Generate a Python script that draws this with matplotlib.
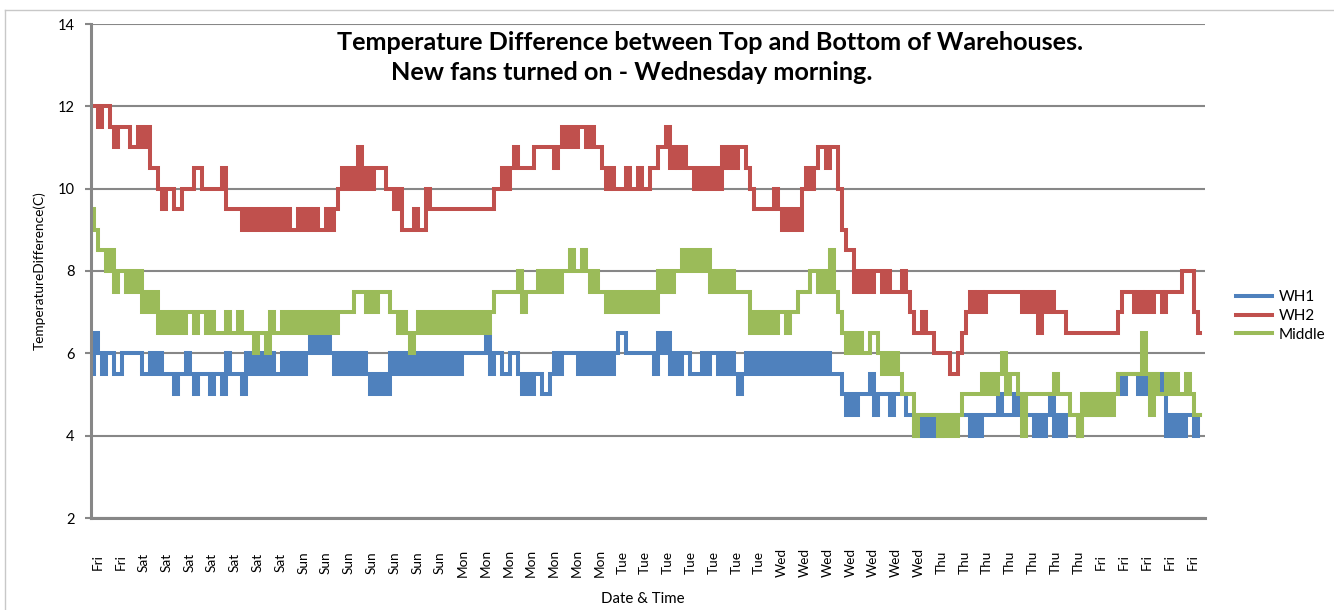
import numpy as np
import matplotlib
matplotlib.use("Agg")
import matplotlib.pyplot as plt
from matplotlib.lines import Line2D

plt.rcParams['font.family'] = ['Lato', 'DejaVu Sans']

# Readings, one char per sample: value = 4 + 0.5 * int(char, 17)
wh1_codes = ("3543443344444334343332334323332332433324343434 3"
             "34343434545454343434343232324343434343434343434 4"
             "4444534433443232332234344443434343434554444 44"
             "4354534344333434434343234343434343434343434343"
             "332121222312221222110101010111111101011112111 2"
             "1211010120101110121212122323332323232010101101 0")
wh2_codes = ("ggfggfefffeefefddcbccbbcccddcccccdbbbbababababa"
             "babaabababaababcdcdcecdcdddccbcaaabaacbbbbbbbb"
             "bbbbbbbbccdcdeddddeeeeedefefeffefeedcdcccdccdc"
             "cddeefdededdcdcdcdcededeedcbbbbbcbababacdcdeede"
             "eca9978787887877787655655444433456767677777777"
             "76767576766655555555555556777676767767777888655")
middle_codes = ("ba99897887878676756565656656656555655655545546 5"
                "5656565656565656666777676777665654565656565656"
                "56565656777777867778787878898898787767676767 67"
                "676878788989898978787877775656565665667778878 7"
                "97654545445543434322201111101010122222323234 23"
                "32022222223222110212121212333333531322323223211")


def decode(codes):
    return [4 + 0.5 * int(c, 17) for c in codes.replace(" ", "")]


wh1 = decode(wh1_codes)
wh2 = decode(wh2_codes)
middle = decode(middle_codes)

day_labels = (["Fri"] * 2 + ["Sat"] * 7 + ["Sun"] * 7 + ["Mon"] * 7 +
              ["Tue"] * 7 + ["Wed"] * 7 + ["Thu"] * 7 + ["Fri"] * 5)

fig = plt.figure(figsize=(13.34, 6.10), dpi=100)
ax = fig.add_axes([91 / 1334, 1 - 518 / 610, 1114 / 1334, 494 / 610])

n = min(len(wh1), len(wh2), len(middle))
x = np.arange(n)
style = dict(lw=2.9, drawstyle="steps-mid", solid_joinstyle="miter")
ax.plot(x, wh1[:n], color="#4F81BD", label="WH1", **style)
ax.plot(x, wh2[:n], color="#C0504D", label="WH2", **style)
ax.plot(x, middle[:n], color="#9BBB59", label="Middle", **style)

ax.set_ylim(2, 14)
ax.set_xlim(-0.25, 278.25)
ax.set_yticks(np.arange(2, 15, 2))
ax.tick_params(axis="y", labelsize=10.5, length=4, color="#878787", width=1.5, pad=8)
ax.grid(axis="y", color="#878787", lw=1.5)
ax.set_axisbelow(True)

ax.set_xticks(np.arange(len(day_labels)) * 5.7 + 1.5)
ax.set_xticklabels(day_labels, rotation=90, va="center", ha="center", fontsize=9.8)
ax.tick_params(axis="x", length=0, pad=32)

for s in ["top", "right"]:
    ax.spines[s].set_visible(False)
ax.spines["left"].set_color("#878787")
ax.spines["left"].set_linewidth(2.2)
ax.spines["bottom"].set_color("#878787")
ax.spines["bottom"].set_linewidth(2.2)

ax.set_ylabel("TemperatureDifference(C)", fontsize=9.8, labelpad=8)
ax.set_xlabel("Date & Time", fontsize=10.8, va="center")
ax.xaxis.set_label_coords((643 - 91) / 1114, -(599 - 518) / 494)

fig.text(710 / 1334, 1 - 42 / 610, "Temperature Difference between Top and Bottom of Warehouses.",
         ha="center", va="center", fontsize=18.2, fontweight="bold")
fig.text(632 / 1334, 1 - 72 / 610, "New fans turned on - Wednesday morning.",
         ha="center", va="center", fontsize=18.2, fontweight="bold")

ax.legend(loc="center left", bbox_to_anchor=(1222 / 1334, 1 - 316 / 610),
          bbox_transform=fig.transFigure, frameon=False, fontsize=11,
          handlelength=2.4, labelspacing=0.3, handletextpad=0.4)

# outer chart frame
fig.add_artist(Line2D([5 / 1334, 1], [1 - 10 / 610] * 2, color="#c8c8c8", lw=1))
fig.add_artist(Line2D([5 / 1334] * 2, [0, 1 - 10 / 610], color="#c8c8c8", lw=1))

fig.savefig("out.png", dpi=100)
